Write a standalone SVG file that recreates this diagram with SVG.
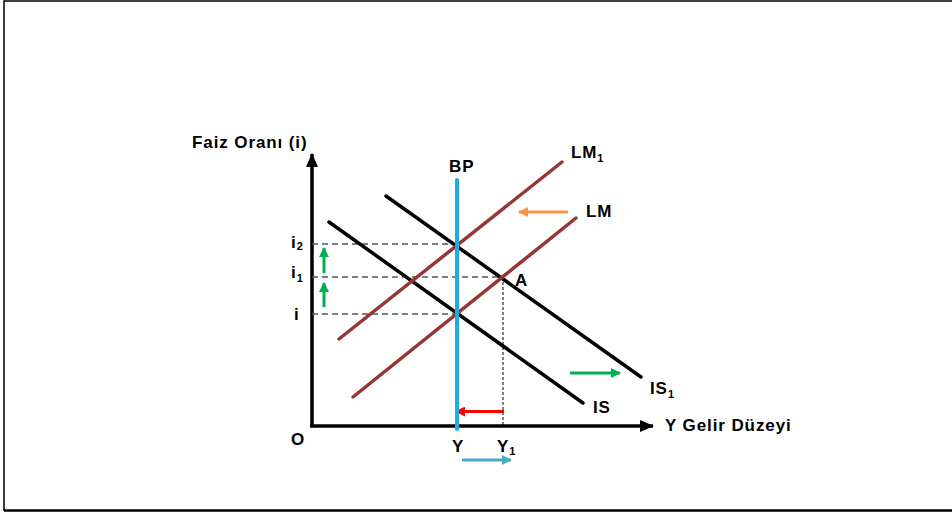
<svg xmlns="http://www.w3.org/2000/svg" width="952" height="513" viewBox="0 0 952 513">
<defs>
<style>
text{font-family:"Liberation Sans",Arial,sans-serif;font-weight:bold;font-size:17px;fill:#000;letter-spacing:0.9px}
.sub{font-size:11px;letter-spacing:0}
.curve{fill:none;stroke-linecap:round}
.is{stroke:#000;stroke-width:3.5}
.lm{stroke:#953735;stroke-width:3.5}
.dash{stroke:#555;stroke-width:1.5;stroke-dasharray:6 4;fill:none}
.axis{stroke:#000;stroke-width:3.5;fill:none}
</style>
<marker id="ah" markerUnits="userSpaceOnUse" markerWidth="14" markerHeight="12" refX="13" refY="6" orient="auto"><path d="M0,0 L14,6 L0,12 z" fill="#000"/></marker>
<marker id="ag" markerUnits="userSpaceOnUse" markerWidth="10" markerHeight="10" refX="9" refY="5" orient="auto"><path d="M0,0 L10,5 L0,10 z" fill="#00B050"/></marker>
<marker id="ao" markerUnits="userSpaceOnUse" markerWidth="10" markerHeight="10" refX="9" refY="5" orient="auto"><path d="M0,0 L10,5 L0,10 z" fill="#F79646"/></marker>
<marker id="ar" markerUnits="userSpaceOnUse" markerWidth="10" markerHeight="10" refX="9" refY="5" orient="auto"><path d="M0,0 L10,5 L0,10 z" fill="#FF0000"/></marker>
<marker id="ab" markerUnits="userSpaceOnUse" markerWidth="10" markerHeight="10" refX="9" refY="5" orient="auto"><path d="M0,0 L10,5 L0,10 z" fill="#4BACC6"/></marker>
</defs>
<rect width="952" height="513" fill="#fff"/>
<path d="M4,511 L4,1 L952,1" fill="none" stroke="#000" stroke-width="1.5"/>
<path d="M4,510.5 L952,510.5" stroke="#000" stroke-width="2.5"/>

<g id="axes">
<line class="axis" x1="312" y1="426" x2="312" y2="154" marker-end="url(#ah)"/>
<line class="axis" x1="310" y1="426" x2="653" y2="426" marker-end="url(#ah)"/>
</g>

<g id="connectors">
<path class="dash" d="M312,244 H457 M312,277 H503 M312,314 H457"/>
<path d="M503,277 V426" stroke="#000" stroke-width="1" stroke-dasharray="3 2" fill="none"/>
<line x1="324" y1="273" x2="324" y2="248" stroke="#00B050" stroke-width="3" marker-end="url(#ag)"/>
<line x1="324" y1="307" x2="324" y2="283" stroke="#00B050" stroke-width="3" marker-end="url(#ag)"/>
<line x1="568" y1="212" x2="519" y2="212" stroke="#F79646" stroke-width="3" marker-end="url(#ao)"/>
<line x1="570" y1="373" x2="620" y2="373" stroke="#00B050" stroke-width="3" marker-end="url(#ag)"/>
<line x1="504" y1="411.5" x2="456" y2="411.5" stroke="#FF0000" stroke-width="3" marker-end="url(#ar)"/>
<line x1="462" y1="460" x2="511" y2="460" stroke="#4BACC6" stroke-width="3" marker-end="url(#ab)"/>
</g>

<g id="curve-IS"><line class="curve is" x1="329" y1="222" x2="583" y2="403"/></g>
<g id="curve-IS1"><line class="curve is" x1="386" y1="196" x2="641" y2="377"/></g>
<g id="curve-LM"><line class="curve lm" x1="353" y1="397" x2="576" y2="218"/></g>
<g id="curve-LM1"><line class="curve lm" x1="339" y1="339" x2="562" y2="162"/></g>
<g id="curve-BP"><line x1="457" y1="180" x2="457" y2="429" stroke="#1CADE4" stroke-width="4" stroke-linecap="round"/></g>

<g id="labels">
<text x="192" y="148">Faiz Oranı (i)</text>
<text x="449" y="172">BP</text>
<text x="571" y="158">LM<tspan class="sub" dy="4">1</tspan></text>
<text x="586" y="217">LM</text>
<text x="515" y="286">A</text>
<text x="650" y="394">IS<tspan class="sub" dy="4">1</tspan></text>
<text x="593" y="413">IS</text>
<text x="665" y="431">Y Gelir Düzeyi</text>
<text x="291" y="445">O</text>
<text x="452" y="452">Y</text>
<text x="497" y="452">Y<tspan class="sub" dy="3">1</tspan></text>
<text x="291" y="248">i<tspan class="sub" dy="2">2</tspan></text>
<text x="291" y="278">i<tspan class="sub" dy="4">1</tspan></text>
<text x="294" y="320">i</text>
</g>
</svg>
